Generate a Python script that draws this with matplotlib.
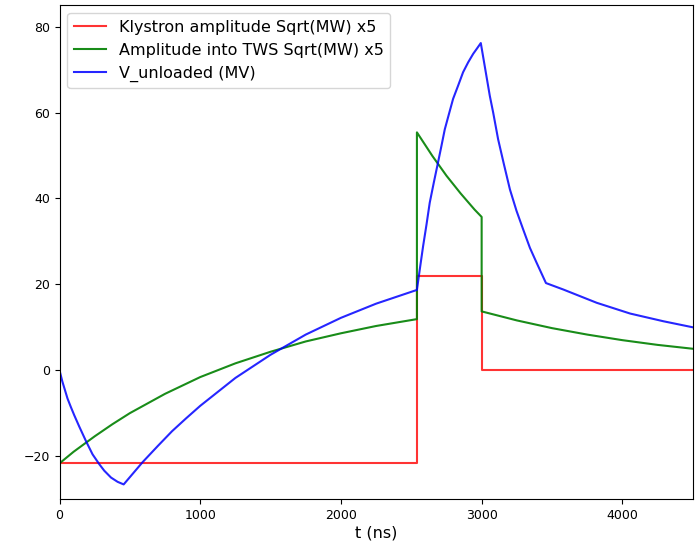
import numpy as np
import matplotlib.pyplot as plt

# Klystron drive (phase flip at 2540 ns, off at 3000 ns)
t_kly = [0, 2540, 2540, 3000, 3000, 4500]
kly = [-21.7, -21.7, 22.0, 22.0, 0.0, 0.0]

# Amplitude into the travelling wave structure
t_tws = [0, 100, 250, 375, 500, 750, 1000, 1250, 1500, 1750, 2000, 2250, 2540,
         2540, 2650, 2750, 2850, 2950, 3000,
         3000, 3250, 3500, 3750, 4000, 4250, 4500]
tws = [-21.7, -19.0, -15.4, -12.6, -10.0, -5.5, -1.6, 1.6, 4.3, 6.7, 8.6, 10.3, 11.9,
       55.4, 49.9, 45.3, 41.2, 37.4, 35.7,
       13.7, 11.6, 9.8, 8.3, 7.0, 5.9, 5.0]

# Unloaded voltage
t_v = [0, 20, 57, 81, 105, 140, 188, 235, 283, 318, 366, 413, 456,
       591, 700, 800, 900, 1000, 1250, 1500, 1750, 2000, 2250, 2540,
       2560, 2584, 2608, 2631, 2660, 2690, 2714, 2738, 2767, 2797, 2833,
       2868, 2904, 2940, 2964, 2994,
       3058, 3082, 3117, 3158, 3201, 3248, 3295, 3343, 3391, 3457,
       3580, 3818, 4055, 4292, 4500]
v_unl = [0, -2.6, -6.6, -8.6, -10.5, -13.1, -16.5, -19.6, -21.9, -23.4, -25.0, -26.0, -26.6,
         -21.4, -17.6, -14.2, -11.2, -8.3, -1.8, 3.6, 8.3, 12.2, 15.5, 18.7,
         23.4, 28.9, 33.9, 39.0, 43.7, 48.4, 52.2, 56.1, 59.6, 63.2, 66.3,
         69.4, 71.7, 73.7, 74.8, 76.2,
         63.9, 60.0, 53.8, 48.0, 42.1, 37.1, 32.8, 28.5, 25.0, 20.3,
         18.8, 15.7, 13.2, 11.4, 10.0]

fig = plt.figure(figsize=(7, 5.44), dpi=100)
ax = fig.add_axes([0.085, 0.0827, 0.9046, 0.9076])

ax.plot(t_kly, kly, color="red", alpha=0.8, label="Klystron amplitude Sqrt(MW) x5")
ax.plot(t_tws, tws, color="green", alpha=0.9, label="Amplitude into TWS Sqrt(MW) x5")
ax.plot(t_v, v_unl, color="blue", alpha=0.85, label="V_unloaded (MV)")

ax.set_xlim(0, 4500)
ax.set_ylim(-30, 85)
ax.set_xticks([0, 1000, 2000, 3000, 4000])
ax.set_yticks([-20, 0, 20, 40, 60, 80])
ax.tick_params(labelsize=9)
ax.set_xlabel("t (ns)", fontsize=11.5, labelpad=3)
ax.legend(loc="upper left", fontsize=11.5)

plt.savefig("out.png", dpi=100)
